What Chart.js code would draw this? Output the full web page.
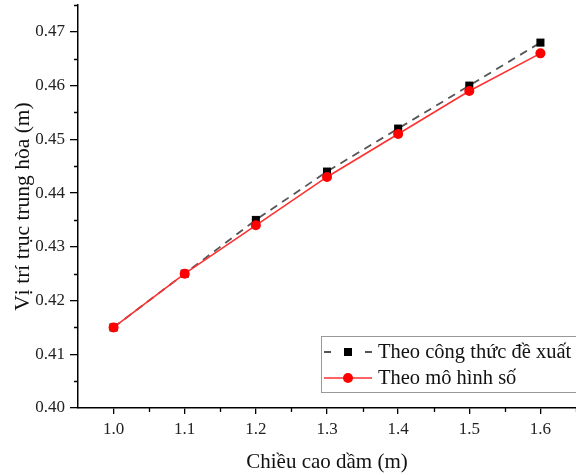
<!DOCTYPE html>
<html>
<head>
<meta charset="utf-8">
<script src="https://cdn.jsdelivr.net/npm/chart.js@4/dist/chart.umd.min.js"></script>
<style>
html,body{margin:0;padding:0;background:#fff;}
#wrap{width:576px;height:475px;position:relative;}
</style>
</head>
<body>
<div id="wrap"><canvas id="c" width="576" height="475"></canvas></div>
<script>
const heights = [1.0, 1.1, 1.2, 1.3, 1.4, 1.5, 1.6];
const formulaValues = [0.415, 0.425, 0.435, 0.444, 0.452, 0.460, 0.468];
const numericValues = [0.415, 0.425, 0.434, 0.443, 0.451, 0.459, 0.466];
const xTicks = [1.0, 1.1, 1.2, 1.3, 1.4, 1.5, 1.6];
const yTicks = [0.40, 0.41, 0.42, 0.43, 0.44, 0.45, 0.46, 0.47];
const xMinorTicks = [1.05, 1.15, 1.25, 1.35, 1.45, 1.55, 1.65];
const yMinorTicks = [0.405, 0.415, 0.425, 0.435, 0.445, 0.455, 0.465, 0.475];
const seriesNames = ['Theo công thức đề xuất', 'Theo mô hình số'];
const xTitle = 'Chiều cao dầm (m)';
const yTitle = 'Vị trí trục trung hòa (m)';

const FONT = '"Liberation Serif", "Times New Roman", serif';

const minorTicksPlugin = {
  id: 'minorTicks',
  afterDraw(chart) {
    const ctx = chart.ctx;
    const xs = chart.scales.x, ys = chart.scales.y;
    ctx.save();
    ctx.strokeStyle = '#000';
    ctx.lineWidth = 1.3;
    ctx.beginPath();
    xMinorTicks.forEach(v => {
      const px = Math.round(xs.getPixelForValue(v)) + 0.5;
      ctx.moveTo(px, xs.top);
      ctx.lineTo(px, xs.top + 4);
    });
    yMinorTicks.forEach(v => {
      const py = Math.round(ys.getPixelForValue(v)) + 0.5;
      ctx.moveTo(ys.right, py);
      ctx.lineTo(ys.right - 4, py);
    });
    ctx.stroke();
    ctx.restore();
  }
};

const legendPlugin = {
  id: 'boxLegend',
  afterDraw(chart) {
    const ctx = chart.ctx;
    const ds = chart.data.datasets;
    const bx = 321.5, by = 336.5, bw = 256, bh = 56;
    ctx.save();
    ctx.fillStyle = '#fff';
    ctx.fillRect(bx, by, bw, bh);
    ctx.strokeStyle = '#999';
    ctx.lineWidth = 1;
    ctx.strokeRect(bx, by, bw, bh);
    const rows = [352, 378];
    const order = [1, 0];
    rows.forEach((ry, i) => {
      const d = ds[order[i]];
      ctx.save();
      ctx.strokeStyle = d.borderColor;
      ctx.lineWidth = d.borderWidth;
      ctx.beginPath();
      if (d.borderDash) {
        ctx.moveTo(324, ry); ctx.lineTo(331, ry);
        ctx.moveTo(365, ry); ctx.lineTo(372, ry);
      } else {
        ctx.moveTo(324, ry); ctx.lineTo(372, ry);
      }
      ctx.stroke();
      ctx.fillStyle = d.pointBackgroundColor;
      if (d.pointStyle === 'rect') {
        ctx.fillRect(348 - 4, ry - 4, 8, 8);
      } else {
        ctx.beginPath(); ctx.arc(348, ry, 5, 0, Math.PI * 2); ctx.fill();
      }
      ctx.restore();
      ctx.fillStyle = '#111';
      ctx.font = '20.5px ' + FONT;
      ctx.textBaseline = 'middle';
      ctx.textAlign = 'left';
      ctx.fillText(seriesNames[i], 378, ry + 1);
    });
    ctx.restore();
  }
};

new Chart(document.getElementById('c'), {
  type: 'line',
  data: {
    datasets: [
      {
        label: seriesNames[1],
        data: heights.map((h, i) => ({x: h, y: numericValues[i]})),
        borderColor: '#ff3030',
        backgroundColor: '#ff0000',
        pointBackgroundColor: '#ff0000',
        pointBorderColor: '#ff0000',
        pointStyle: 'circle',
        pointRadius: 5,
        pointBorderWidth: 0,
        borderWidth: 1.6,
        order: 1
      },
      {
        label: seriesNames[0],
        data: heights.map((h, i) => ({x: h, y: formulaValues[i]})),
        borderColor: '#555555',
        backgroundColor: '#000',
        pointBackgroundColor: '#000',
        pointBorderColor: '#000',
        pointStyle: 'rect',
        pointRadius: 5.7,
        pointBorderWidth: 0,
        borderWidth: 1.8,
        borderDash: [8, 6],
        order: 2
      }
    ]
  },
  options: {
    responsive: false,
    animation: false,
    devicePixelRatio: 1,
    layout: {autoPadding: false, padding: {left: 0, right: 0, top: 5, bottom: 0}},
    plugins: {legend: {display: false}, tooltip: {enabled: false}},
    scales: {
      x: {
        type: 'linear',
        min: 0.95,
        max: 1.65,
        afterBuildTicks(s) { s.ticks = xTicks.map(v => ({value: v})); },
        afterFit(s) { s.height = 67; s.paddingRight = 0; s.paddingLeft = 0; },
        ticks: {
          color: '#222',
          font: {family: FONT, size: 17},
          padding: 5,
          maxRotation: 0,
          autoSkip: false,
          callback: v => Number(v).toFixed(1)
        },
        grid: {drawOnChartArea: false, drawTicks: true, tickLength: 6, color: '#000', lineWidth: 1.3},
        border: {display: true, color: '#000', width: 1.5},
        title: {display: true, text: xTitle, color: '#111', font: {family: FONT, size: 21}, padding: {top: 0, bottom: 0}}
      },
      y: {
        type: 'linear',
        min: 0.40,
        max: 0.475,
        afterBuildTicks(s) { s.ticks = yTicks.map(v => ({value: v})); },
        afterFit(s) { s.width = 78; s.paddingTop = 0; s.paddingBottom = 0; },
        ticks: {
          color: '#222',
          font: {family: FONT, size: 17},
          padding: 5,
          autoSkip: false,
          callback: v => Number(v).toFixed(2)
        },
        grid: {drawOnChartArea: false, drawTicks: true, tickLength: 8, color: '#000', lineWidth: 1.3},
        border: {display: true, color: '#000', width: 1.5},
        title: {display: true, text: yTitle, color: '#111', font: {family: FONT, size: 21.5}, padding: {top: 10, bottom: 0}}
      }
    }
  },
  plugins: [minorTicksPlugin, legendPlugin]
});
</script>
</body>
</html>
